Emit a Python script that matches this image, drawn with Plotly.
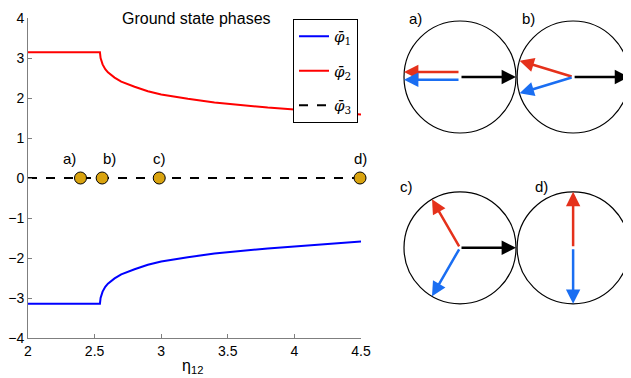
import math
import plotly.graph_objects as go

# phase curves
eta = [2.0, 2.54, 2.545, 2.55, 2.56, 2.58, 2.6, 2.65, 2.7, 2.8, 2.9, 3.0,
       3.2, 3.4, 3.6, 3.8, 4.0, 4.2, 4.4, 4.5]
phi2 = [3.1416, 3.1416, 3.0, 2.93, 2.84, 2.72, 2.64, 2.51, 2.41, 2.28, 2.17, 2.09,
        1.98, 1.89, 1.82, 1.76, 1.71, 1.66, 1.62, 1.59]
phi1 = [-3.1416, -3.1416, -3.0, -2.93, -2.84, -2.72, -2.64, -2.51, -2.41, -2.28, -2.17, -2.09,
        -1.98, -1.89, -1.82, -1.76, -1.71, -1.66, -1.62, -1.59]
phi3 = [0.0] * len(eta)

# the four marked states
state_labels = ["a)", "b)", "c)", "d)"]
state_eta = [2.40, 2.565, 3.0, 4.53]
state_phi = [0.0, 0.0, 0.0, 0.0]
# angle of phi2 (red) in each state, degrees; blue is mirrored, black at 0
state_angle = [180, 163, 120, 90]
state_black = [True, True, True, False]

RED = "#FF0000"
BLUE = "#0000FF"
ARROW_RED = "#E5311B"
ARROW_BLUE = "#1A6EF2"
GOLD = "#D9A30F"
AXIS_GREY = "#7F7F7F"
FONT = "Liberation Sans, Arial, sans-serif"

W, H = 631, 378
PAGE = 8  # the page body margin pushes the svg 8px right and down


def px(x):
    return (x - PAGE) / W


def py(y):
    return 1 - (y - PAGE) / H


fig = go.Figure()
fig.add_trace(go.Scatter(x=eta, y=phi1, mode="lines", name="<i>φ̄</i><sub>1</sub>",
                         legendgroup="1", line=dict(color=BLUE, width=2)))
fig.add_trace(go.Scatter(x=eta, y=phi2, mode="lines", name="<i>φ̄</i><sub>2</sub>",
                         legendgroup="2", line=dict(color=RED, width=2)))
fig.add_trace(go.Scatter(x=eta, y=phi3, mode="lines", name="<i>φ̄</i><sub>3</sub>",
                         legendgroup="3", line=dict(color="black", width=2, dash="dash")))
# markers sit on an overlay axis with the same scale that runs a bit past 4.5
fig.add_trace(go.Scatter(x=state_eta, y=state_phi, mode="markers", showlegend=False,
                         xaxis="x3", yaxis="y", cliponaxis=False,
                         marker=dict(color=GOLD, size=12, line=dict(color="black", width=1))))

# labels above the markers
label_dx = [-0.08, 0.055, 0.0, 0.0]
for lab, ex, dx in zip(state_labels, state_eta, label_dx):
    fig.add_annotation(x=ex + dx, y=0.5, text=lab, showarrow=False, xref="x3", yref="y",
                       font=dict(size=15, color="black", family=FONT))

# right-hand sketches: unit circles (radius = 56px) on a second pair of axes
centers = [(0.0, 0.0), (2.02, 0.0), (0.0, -3.05), (2.02, -3.05)]
label_pos = [(-0.8, 1.05), (1.22, 1.05), (-0.95, -1.95), (1.45, -1.95)]
# small vertical split of the antiparallel arrows in a)
offsets = [(0.09, -0.05), (0, 0), (0, 0), (0, 0)]

shapes = []
for (cx, cy), lab, (lx, ly), ang, blk, (ro, bo) in zip(
        centers, state_labels, label_pos, state_angle, state_black, offsets):
    shapes.append(dict(type="circle", xref="x2", yref="y2",
                       x0=cx - 1, x1=cx + 1, y0=cy - 1, y1=cy + 1,
                       line=dict(color="black", width=1.2)))
    fig.add_annotation(x=lx, y=ly, xref="x2", yref="y2", text=lab, showarrow=False,
                       font=dict(size=15, color="black", family=FONT))
    t = math.radians(ang)
    arrows = [(math.cos(t), math.sin(t), ro, ARROW_RED),
              (math.cos(-t), math.sin(-t), bo, ARROW_BLUE)]
    if blk:
        arrows.append((1.0, 0.0, 0.0, "black"))
    for dx, dy, off, col in arrows:
        fig.add_annotation(x=cx + dx, y=cy + dy + off, ax=cx, ay=cy + off,
                           xref="x2", yref="y2", axref="x2", ayref="y2",
                           text="", showarrow=True, arrowhead=2, arrowsize=1.15,
                           arrowwidth=2.5, arrowcolor=col, standoff=0, startstandoff=0)

# titles
fig.add_annotation(x=px(196), y=py(8), xref="paper", yref="paper",
                   xanchor="center", yanchor="top",
                   text="Ground state phases", showarrow=False,
                   font=dict(size=16, color="black", family=FONT))
fig.add_annotation(x=px(192), y=py(366), xref="paper", yref="paper",
                   xanchor="center", yanchor="middle",
                   text="η<sub>12</sub>", showarrow=False,
                   font=dict(size=16, color="black", family=FONT))

axis_style = dict(showgrid=False, zeroline=False, showline=True, linecolor=AXIS_GREY,
                  linewidth=1, ticks="inside", ticklen=4, tickcolor=AXIS_GREY,
                  tickfont=dict(size=14, color="black", family=FONT))

left, right, right3 = 28, 361, 366
top, bottom = 18, 338
circ_left = 390
fig.update_layout(
    width=W, height=H,
    margin=dict(l=0, r=0, t=0, b=0, autoexpand=False),
    paper_bgcolor="white", plot_bgcolor="rgba(0,0,0,0)",
    font=dict(family=FONT, size=15, color="black"),
    shapes=shapes,
    xaxis=dict(domain=[px(left), px(right)], range=[2, 4.5], tickvals=[2, 2.5, 3, 3.5, 4, 4.5],
               ticktext=["2", "2.5", "3", "3.5", "4", "4.5"], **axis_style),
    yaxis=dict(domain=[py(bottom), py(top)], range=[-4, 4], dtick=1, **axis_style),
    xaxis3=dict(domain=[px(left), px(right3)],
                range=[2, 2 + 2.5 * (right3 - left) / (right - left)],
                overlaying="x", anchor="y", visible=False),
    xaxis2=dict(domain=[px(circ_left), 1], anchor="y2", visible=False,
                range=[-70 / 56, -70 / 56 + (W + PAGE - circ_left) / 56]),
    yaxis2=dict(domain=[0, 1], anchor="x2", visible=False,
                range=[(77 - PAGE) / 56 - H / 56, (77 - PAGE) / 56]),
    legend=dict(x=px(293), y=py(19), xanchor="left", yanchor="top",
                bgcolor="white", bordercolor="black", borderwidth=1,
                tracegroupgap=12, traceorder="grouped",
                font=dict(size=15, color="black", family="DejaVu Serif, serif")),
)

fig.write_html("out.html")
